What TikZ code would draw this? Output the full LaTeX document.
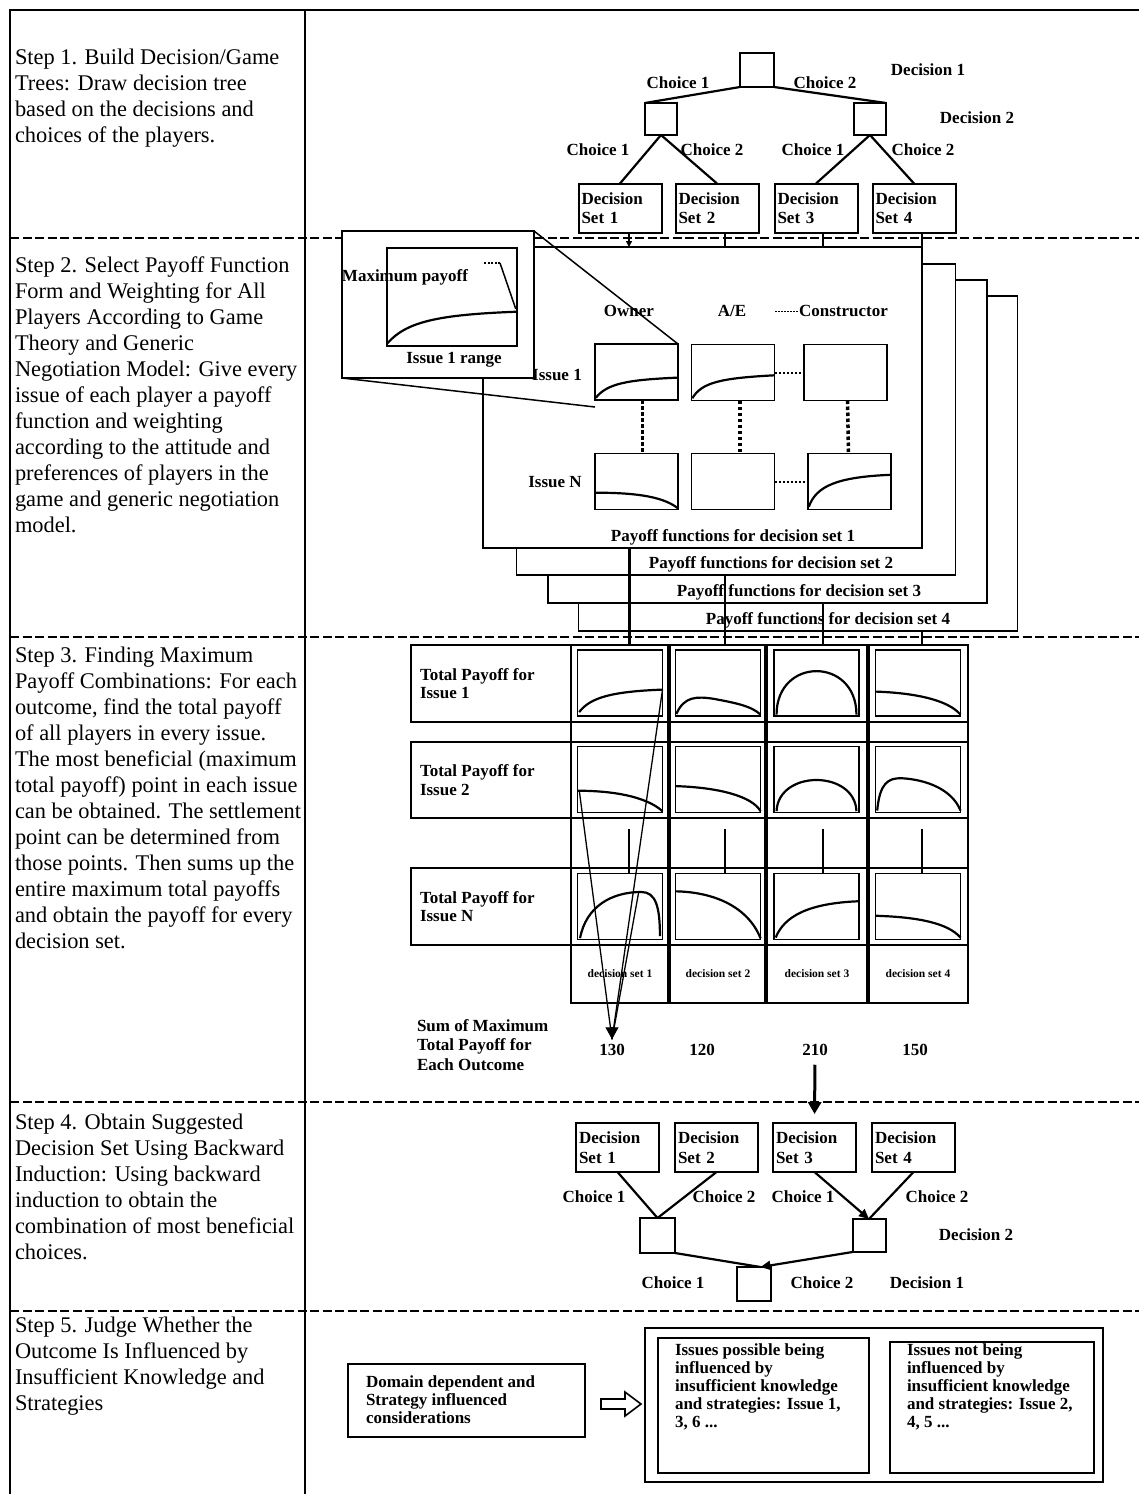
\documentclass[tikz,border=0pt]{standalone}
\usepackage{fontspec}
\setmainfont{Liberation Serif}
\usetikzlibrary{arrows.meta,calc}

% draw inside a chart node, with (0,0) its lower left and (1,1) its upper right corner
\newcommand{\plotin}[4]{%
  \begin{scope}[shift={(#1.south west)},x={(#2pt,0pt)},y={(0pt,#3pt)}]
    #4
  \end{scope}}

\begin{document}
\begin{tikzpicture}[x=1pt,y=-1pt,
  every node/.style={inner sep=0pt,outer sep=0pt},
  border/.style={line width=1.4pt},
  rowsep/.style={line width=1.3pt,dash pattern=on 9pt off 3.5pt},
  steptext/.style={anchor=north west,align=left,font=\fontsize{22.4}{26}\selectfont},
  lbl/.style={font=\fontsize{17}{18.5}\selectfont\bfseries},
  tinylbl/.style={font=\fontsize{11.5}{13}\selectfont\bfseries},
  boxtext/.style={anchor=north west,align=left,font=\fontsize{17}{17.8}\selectfont\bfseries},
  sq/.style={draw,line width=2pt,fill=white,minimum size=#1},
  dset/.style={draw,line width=2pt,minimum width=83pt,minimum height=49pt,text width=77pt,inner xsep=3pt,align=left,font=\fontsize{17}{19.5}\selectfont\bfseries},
  branch/.style={line width=2.2pt},
  pfbox/.style={draw,line width=1.8pt,fill=white,minimum width=439pt,minimum height=#1},
  chart/.style={draw,line width=1.8pt,fill=white,minimum width=83pt,minimum height=56pt},
  gchart/.style={draw,line width=1.8pt,minimum width=85pt,minimum height=66pt},
  curve/.style={line width=2.2pt},
  dotv/.style={line width=3.5pt,dash pattern=on 3.5pt off 2.5pt},
  doth/.style={line width=2pt,dash pattern=on 2.5pt off 1.5pt},
  rowbox/.style={draw,line width=1.5pt,minimum width=557pt,minimum height=#1},
  colbox/.style={draw,line width=2pt,minimum height=358pt,minimum width=#1},
  thin/.style={line width=1.3pt},
  tip/.style={-{Triangle[length=10pt,width=9pt]}}
]
\useasboundingbox (0,0) rectangle (1139,1494);
\fill[white] (0,0) rectangle (1139,1494);

% ---------- table frame ----------
\draw[border] (10,1494) -- (10,10) -- (1139,10);
\draw[border] (305,10) -- (305,1494);
\foreach \yy in {238,637,1102,1311}
  \draw[rowsep] (10,\yy) -- (1139,\yy);

% ---------- step descriptions ----------
\node[steptext] (s1) at (15,49) {Step 1. Build Decision/Game\\Trees: Draw decision tree\\based on the decisions and\\choices of the players.};
\node[steptext] (s2) at (15,257) {Step 2. Select Payoff Function\\Form and Weighting for All\\Players According to Game\\Theory and Generic\\Negotiation Model: Give every\\issue of each player a payoff\\function and weighting\\according to the attitude and\\preferences of players in the\\game and generic negotiation\\model.};
\node[steptext] (s3) at (15,647) {Step 3. Finding Maximum\\Payoff Combinations: For each\\outcome, find the total payoff\\of all players in every issue.\\The most beneficial (maximum\\total payoff) point in each issue\\can be obtained. The settlement\\point can be determined from\\those points. Then sums up the\\entire maximum total payoffs\\and obtain the payoff for every\\decision set.};
\node[steptext] (s4) at (15,1114) {Step 4. Obtain Suggested\\Decision Set Using Backward\\Induction: Using backward\\induction to obtain the\\combination of most beneficial\\choices.};
\node[steptext] (s5) at (15,1317) {Step 5. Judge Whether the\\Outcome Is Influenced by\\Insufficient Knowledge and\\Strategies};

% ---------- step 1: decision tree ----------
\node[sq=34pt] (t0) at (757,70) {};
\node[sq=32pt] (tl) at (661,119) {};
\node[sq=32pt] (tr) at (870,119) {};
\node[dset] (u1) at (620,208) {Decision\\Set 1};
\node[dset] (u2) at (717,208) {Decision\\Set 2};
\node[dset] (u3) at (816,208) {Decision\\Set 3};
\node[dset] (u4) at (914,208) {Decision\\Set 4};
\draw[branch] (t0.south west) -- (tl.north west);
\draw[branch] (t0.south east) -- (tr.north east);
\draw[branch] (tl.south) -- (u1.north);
\draw[branch] (tl.south) -- (u2.north);
\draw[branch] (tr.south) -- (u3.north);
\draw[branch] (tr.south) -- (u4.north);
\node[lbl] (tc1) at (678,83) {Choice 1};
\node[lbl] (tc2) at (825,83) {Choice 2};
\node[lbl] (td1) at (928,70) {Decision 1};
\node[lbl] (td2) at (977,118) {Decision 2};
\node[lbl] (tc3) at (598,150) {Choice 1};
\node[lbl] (tc4) at (712,150) {Choice 2};
\node[lbl] (tc5) at (813,150) {Choice 1};
\node[lbl] (tc6) at (923,150) {Choice 2};

% ---------- step 2: stacked payoff function sheets ----------
\coordinate (c1) at (629,0);
\coordinate (c2) at (725,0);
\coordinate (c3) at (823,0);
\coordinate (c4) at (922,0);
\node[pfbox=335pt] (pf4) at (798,463.5) {};
\node[lbl] (pl4) at (828,620) {Payoff functions for decision set 4};
\node[pfbox=323pt] (pf3) at (767.5,441.5) {};
\node[lbl] (pl3) at (799,592) {Payoff functions for decision set 3};
\node[pfbox=311pt] (pf2) at (736,419.5) {};
\node[lbl] (pl2) at (771,564) {Payoff functions for decision set 2};
\node[pfbox=301pt] (pf1) at (702.5,397.5) {};
\node[lbl] (pl1) at (733,537) {Payoff functions for decision set 1};

\draw[thin,-{Triangle[length=6pt,width=6pt]}] (u1.south -| c1) -- (pf1.north -| c1);
\draw[thin] (u2.south -| c2) -- (pf1.north -| c2);
\draw[thin] (u3.south -| c3) -- (pf1.north -| c3);
\draw[thin] (u4.south -| c4) -- (pf1.north -| c4);

\node[lbl] (own) at (629,311) {Owner};
\node[lbl] (ae) at (732,311) {A/E};
\node[lbl] (con) at (843.5,311) {Constructor};
\draw[line width=1pt,dash pattern=on 2pt off 1pt] ($(con.west)+(-24,0)$) -- (con.west);

\node[chart] (o1) at (636.5,372) {};
\node[chart] (a1) at (733,372.5) {};
\node[chart] (k1) at (845.5,372.5) {};
\node[chart] (oN) at (636.5,481.5) {};
\node[chart] (aN) at (733,481.5) {};
\node[chart] (kN) at (849.5,481.5) {};
\node[lbl] (is1) at (557,375) {Issue 1};
\node[lbl] (isN) at (555,482) {Issue N};
\plotin{o1}{83}{56}{\draw[curve] (0.01,0.04) .. controls (0.15,0.3) and (0.4,0.36) .. (1,0.4);}
\plotin{a1}{83}{56}{\draw[curve] (0.01,0.04) .. controls (0.12,0.32) and (0.35,0.4) .. (1,0.45);}
\plotin{oN}{83}{56}{\draw[curve] (0,0.3) .. controls (0.4,0.3) and (0.8,0.26) .. (1,0.02);}
\plotin{kN}{83}{56}{\draw[curve] (0.01,0.05) .. controls (0.1,0.42) and (0.35,0.58) .. (1,0.62);}
\draw[dotv] ($(o1.south)+(6,0)$) -- ($(oN.north)+(6,0)$);
\draw[dotv] ($(a1.south)+(7,0)$) -- ($(aN.north)+(7,0)$);
\draw[dotv] ($(k1.south)+(2,0)$) -- ($(kN.north)+(-1,0)$);
\draw[doth] (a1.east) -- (k1.west);
\draw[doth] (aN.east) -- (kN.west);

% magnified view of one payoff function
\node[draw,line width=2pt,fill=white,minimum width=192pt,minimum height=147pt] (zb) at (438,304.5) {};
\node[draw,line width=2pt,minimum width=130pt,minimum height=98pt] (zc) at (452,297) {};
\plotin{zc}{130}{98}{\draw[curve] (0.005,0.03) .. controls (0.15,0.25) and (0.4,0.32) .. (1,0.35); \coordinate (zp) at (0.99,0.38);}
\node[lbl] (mx) at (405,277) {Maximum payoff};
\node[lbl] (rg) at (454,360) {Issue 1 range};
\coordinate (zk) at (500,263);
\draw[line width=1.5pt] (zp) -- (zk);
\draw[line width=1.5pt,dash pattern=on 2pt off 1.5pt] (zk) -- ++(-16,0);
\draw[line width=1.5pt] (zb.north east) -- (o1.north east);
\draw[line width=1.5pt] (zb.south west) -- ($(o1.south west)+(0,7)$);

% ---------- step 3: total payoff grid ----------
\node[rowbox=77pt] (r1) at (689.5,683.5) {};
\node[rowbox=76pt] (r2) at (689.5,780) {};
\node[rowbox=77pt] (rN) at (689.5,906.5) {};
\node[colbox=97pt] (k1c) at (619.5,824) {};
\node[colbox=95pt] (k2c) at (717.5,824) {};
\node[colbox=100pt] (k3c) at (817,824) {};
\node[colbox=99pt] (k4c) at (918.5,824) {};

\foreach \cx [count=\ci] in {620,718,816.5,918}{
  \node[gchart] (g\ci a) at (\cx,683) {};
  \node[gchart] (g\ci b) at (\cx,779.5) {};
  \node[gchart] (g\ci n) at (\cx,906.5) {};
}
% issue 1
\plotin{g1a}{85}{66}{\draw[curve] (0.02,0.06) .. controls (0.15,0.28) and (0.4,0.37) .. (1,0.4); \coordinate (m1) at (1,0.4);}
\plotin{g2a}{85}{66}{\draw[curve] (0.01,0.03) .. controls (0.1,0.3) and (0.25,0.3) .. (0.45,0.26) .. controls (0.7,0.2) and (0.9,0.15) .. (1,0.02);}
\plotin{g3a}{85}{66}{\draw[curve] (0.03,0.02) .. controls (0.03,0.9) and (0.97,0.9) .. (0.97,0.02);}
\plotin{g4a}{85}{66}{\draw[curve] (0,0.37) .. controls (0.45,0.35) and (0.85,0.25) .. (1,0.02);}
% issue 2
\plotin{g1b}{85}{66}{\draw[curve] (0,0.33) .. controls (0.4,0.33) and (0.8,0.25) .. (1,0.02); \coordinate (m2) at (0.02,0.34);}
\plotin{g2b}{85}{66}{\draw[curve] (0,0.4) .. controls (0.5,0.38) and (0.9,0.25) .. (1,0.02);}
\plotin{g3b}{85}{66}{\draw[curve] (0.03,0.02) .. controls (0.05,0.65) and (0.95,0.65) .. (0.97,0.02);}
\plotin{g4b}{85}{66}{\draw[curve] (0.02,0.03) .. controls (0.05,0.45) and (0.15,0.52) .. (0.3,0.52) .. controls (0.6,0.5) and (0.9,0.35) .. (1,0.03);}
% issue N
\plotin{g1n}{85}{66}{\draw[curve] (0.03,0.02) .. controls (0.1,0.5) and (0.4,0.72) .. (0.75,0.72) .. controls (0.92,0.72) and (0.97,0.5) .. (0.97,0.05); \coordinate (m3) at (0.72,0.72);}
\plotin{g2n}{85}{66}{\draw[curve] (0,0.73) .. controls (0.45,0.72) and (0.85,0.5) .. (1,0.02);}
\plotin{g3n}{85}{66}{\draw[curve] (0.02,0.03) .. controls (0.12,0.35) and (0.4,0.55) .. (1,0.58);}
\plotin{g4n}{85}{66}{\draw[curve] (0,0.36) .. controls (0.5,0.34) and (0.85,0.25) .. (1,0.03);}

\node[lbl,anchor=west,align=left] (rl1) at (420,683.5) {Total Payoff for\\Issue 1};
\node[lbl,anchor=west,align=left] (rl2) at (420,780) {Total Payoff for\\Issue 2};
\node[lbl,anchor=west,align=left] (rlN) at (420,906.5) {Total Payoff for\\Issue N};

\draw[thin,shorten <=16pt] (g1b.south -| c1) -- (g1n.north -| c1);
\draw[thin,shorten <=16pt] (g2b.south -| c2) -- (g2n.north -| c2);
\draw[thin,shorten <=16pt] (g3b.south -| c3) -- (g3n.north -| c3);
\draw[thin,shorten <=16pt] (g4b.south -| c4) -- (g4n.north -| c4);

\node[tinylbl] (dl1) at (620,974) {decision set 1};
\node[tinylbl] (dl2) at (718,974) {decision set 2};
\node[tinylbl] (dl3) at (817,974) {decision set 3};
\node[tinylbl] (dl4) at (918,974) {decision set 4};

\node[anchor=west,align=left,font=\fontsize{17}{19.5}\selectfont\bfseries] (sum) at (417,1045) {Sum of Maximum\\Total Payoff for\\Each Outcome};
\node[lbl] (v1) at (612,1050) {130};
\node[lbl] (v2) at (702,1050) {120};
\node[lbl] (v3) at (815,1050) {210};
\node[lbl] (v4) at (915,1050) {150};

% payoff sheets feed the grid columns
\draw[line width=3pt] (pf1.south -| c1) -- (k1c.north -| c1);
\draw[thin] (pf2.south -| c2) -- (k2c.north -| c2);
\draw[thin] (pf3.south -| c3) -- (k3c.north -| c3);
\draw[thin] (pf4.south -| c4) -- (k4c.north -| c4);

% maxima of decision set 1 summed up
\coordinate (vt) at ($(v1.north)+(0,-5)$);
\draw[thin] (m1) -- (vt);
\draw[thin] (m2) -- (vt);
\draw[thin] (m3) -- (vt);
\draw[thin,-{Triangle[length=12pt,width=13pt]}] ($(vt)+(0,-12)$) -- (vt);

% ---------- step 4: backward induction ----------
\node[dset] (b1) at (617.5,1147.5) {Decision\\Set 1};
\node[dset] (b2) at (716.5,1147.5) {Decision\\Set 2};
\node[dset] (b3) at (814.5,1147.5) {Decision\\Set 3};
\node[dset] (b4) at (913.5,1147.5) {Decision\\Set 4};
\draw[line width=3pt,-{Triangle[length=12pt,width=13pt]},shorten <=9pt,shorten >=9pt] (v3.south) -- (b3.north);
\node[sq=35pt] (q1) at (657.5,1235.5) {};
\node[sq=33pt] (q2) at (869,1235.5) {};
\node[sq=34pt] (q0) at (753.5,1284) {};
\node[lbl] (bc1) at (594,1197) {Choice 1};
\node[lbl] (bc2) at (724,1197) {Choice 2};
\node[lbl] (bc3) at (803,1197) {Choice 1};
\node[lbl] (bc4) at (937,1197) {Choice 2};
\node[lbl] (bd2) at (976,1235) {Decision 2};
\node[lbl] (bc5) at (673,1283) {Choice 1};
\node[lbl] (bc6) at (822,1283) {Choice 2};
\node[lbl] (bd1) at (927,1283) {Decision 1};
\draw[branch] (b1.south) -- (q1.north);
\draw[branch] (b2.south) -- (q1.north);
\draw[branch,tip] (b3.south) -- (q2.north);
\draw[branch] (b4.south) -- (q2.north);
\coordinate (q0t) at ($(q0.north)+(7,0)$);
\draw[branch] (q1.south east) -- (q0t);
\draw[branch,tip] (q2.south west) -- (q0t);

% ---------- step 5: influence of knowledge and strategies ----------
\node[draw,line width=1.8pt,minimum width=237pt,minimum height=73pt] (dom) at (466.5,1400.5) {};
\node[boxtext] (domt) at (366,1376) {Domain dependent and\\Strategy influenced\\considerations};
\node[draw,line width=1.5pt,minimum width=458pt,minimum height=154pt] (ob) at (874,1405) {};
\node[draw,line width=2pt,minimum width=211pt,minimum height=135pt] (ib1) at (763.5,1405.5) {};
\node[draw,line width=2pt,minimum width=204pt,minimum height=131pt] (ib2) at (992,1407.5) {};
% hollow block arrow between the two groups
\draw[line width=1.6pt,fill=white,line join=miter]
  (601,1399) -- (625,1399) -- (625,1392) -- (641,1404) -- (625,1416) -- (625,1409) -- (601,1409) -- cycle;
\node[boxtext] (it1) at (675,1344) {Issues possible being\\influenced by\\insufficient knowledge\\and strategies: Issue 1,\\3, 6 ...};
\node[boxtext] (it2) at (907,1344) {Issues not being\\influenced by\\insufficient knowledge\\and strategies: Issue 2,\\4, 5 ...};
\end{tikzpicture}
\end{document}
